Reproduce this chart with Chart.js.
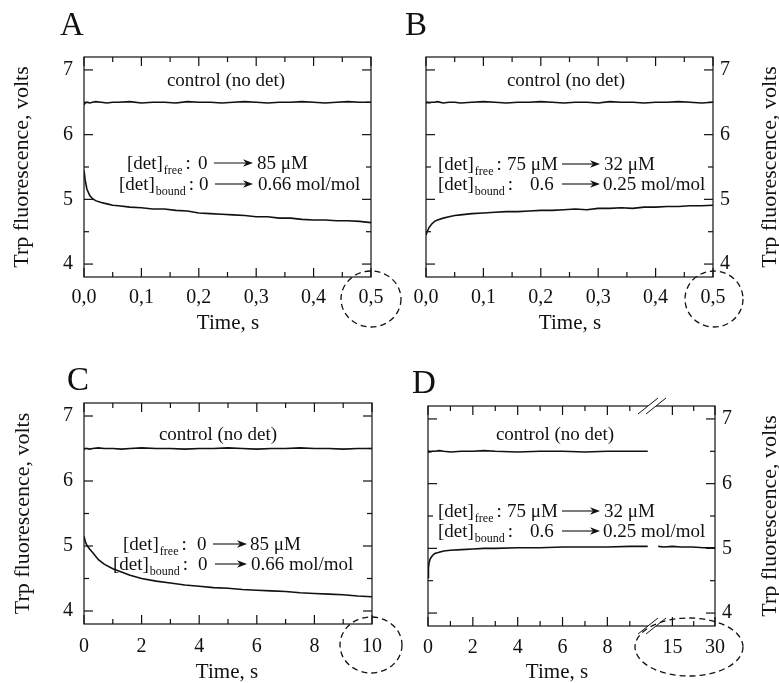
<!DOCTYPE html>
<html>
<head>
<meta charset="utf-8">
<script src="https://cdn.jsdelivr.net/npm/chart.js@4.4.1/dist/chart.umd.min.js"></script>
<style>
  html, body { margin: 0; padding: 0; background: #fff; }
  #wrap { position: relative; width: 779px; height: 683px; }
  #wrap canvas { position: absolute; left: 0; top: 0; }
</style>
</head>
<body>
<div id="wrap">
  <canvas id="panelA" width="779" height="683"></canvas>
  <canvas id="panelB" width="779" height="683"></canvas>
  <canvas id="panelC" width="779" height="683"></canvas>
  <canvas id="panelD" width="779" height="683"></canvas>
</div>
<script>
const FONT = '"Liberation Serif", "Times New Roman", Times, serif';
const INK = '#111';

// --- values ---
const yTicks = [4, 5, 6, 7];
const yMinorTicks = [4.5, 5.5, 6.5];

// A and B: 0 - 0.5 s
const timeFast = [0, 0.002, 0.005, 0.01, 0.015, 0.02, 0.03, 0.04, 0.05, 0.06, 0.08, 0.1, 0.12, 0.14, 0.16, 0.18,
  0.2, 0.22, 0.24, 0.26, 0.28, 0.3, 0.32, 0.34, 0.36, 0.38, 0.4, 0.42, 0.44, 0.46, 0.48, 0.5];
const controlA = [6.46, 6.49, 6.50, 6.49, 6.50, 6.51, 6.50, 6.49, 6.50, 6.50, 6.51, 6.49, 6.50, 6.50, 6.49, 6.51,
  6.50, 6.50, 6.49, 6.50, 6.51, 6.50, 6.49, 6.50, 6.50, 6.51, 6.50, 6.49, 6.50, 6.51, 6.50, 6.50];
const signalA = [5.45, 5.30, 5.16, 5.06, 5.01, 4.98, 4.95, 4.93, 4.91, 4.90, 4.88, 4.87, 4.85, 4.85, 4.83, 4.82,
  4.79, 4.78, 4.77, 4.76, 4.75, 4.73, 4.73, 4.71, 4.71, 4.69, 4.68, 4.68, 4.67, 4.67, 4.66, 4.64];
const controlB = [6.48, 6.50, 6.49, 6.50, 6.50, 6.51, 6.49, 6.50, 6.50, 6.49, 6.50, 6.51, 6.50, 6.49, 6.50, 6.50,
  6.51, 6.50, 6.49, 6.50, 6.50, 6.49, 6.51, 6.50, 6.50, 6.49, 6.50, 6.50, 6.51, 6.50, 6.49, 6.50];
const signalB = [4.45, 4.50, 4.56, 4.62, 4.66, 4.68, 4.71, 4.73, 4.75, 4.76, 4.78, 4.79, 4.80, 4.81, 4.81, 4.82,
  4.83, 4.83, 4.84, 4.85, 4.84, 4.86, 4.86, 4.87, 4.86, 4.88, 4.88, 4.89, 4.89, 4.90, 4.90, 4.91];
const xTicksFast = [0, 0.1, 0.2, 0.3, 0.4, 0.5];
const xMinorFast = [0.05, 0.15, 0.25, 0.35, 0.45];
const xLabelsFast = ['0,0', '0,1', '0,2', '0,3', '0,4', '0,5'];

// C: 0 - 10 s
const timeC = [0, 0.05, 0.1, 0.2, 0.3, 0.5, 0.7, 1, 1.3, 1.6, 2, 2.5, 3, 3.5, 4, 4.5, 5, 5.5, 6, 6.5, 7, 7.5, 8, 8.5, 9, 9.5, 10];
const controlC = [6.49, 6.50, 6.50, 6.49, 6.50, 6.51, 6.50, 6.50, 6.49, 6.50, 6.51, 6.50, 6.50, 6.49, 6.50, 6.50,
  6.51, 6.50, 6.49, 6.50, 6.50, 6.51, 6.50, 6.50, 6.49, 6.50, 6.50];
const signalC = [5.15, 5.06, 5.01, 4.95, 4.90, 4.79, 4.72, 4.65, 4.60, 4.55, 4.50, 4.46, 4.43, 4.40, 4.38, 4.36,
  4.35, 4.33, 4.32, 4.31, 4.30, 4.28, 4.27, 4.26, 4.25, 4.23, 4.22];
const xTicksSlow = [0, 2, 4, 6, 8, 10];
const xMinorSlow = [1, 3, 5, 7, 9];
const xLabelsSlow = ['0', '2', '4', '6', '8', '10'];

// D: 0 - 10 s, axis break, then out to 30 s
const timeD = [0, 0.02, 0.05, 0.1, 0.2, 0.3, 0.5, 0.7, 1, 1.5, 2, 2.5, 3, 4, 5, 6, 7, 8, 9, 9.8];
const controlD = [6.49, 6.50, 6.50, 6.49, 6.50, 6.50, 6.51, 6.50, 6.49, 6.50, 6.50, 6.51, 6.50, 6.49, 6.50, 6.50,
  6.49, 6.50, 6.50, 6.50];
const signalD = [4.55, 4.70, 4.78, 4.84, 4.89, 4.92, 4.94, 4.96, 4.97, 4.98, 4.99, 5.00, 5.00, 5.01, 5.01, 5.02,
  5.02, 5.02, 5.03, 5.03];
const timeDLate = [10, 12, 15, 18, 22, 26, 30];
const signalDLate = [5.03, 5.02, 5.03, 5.02, 5.02, 5.01, 5.01];
const xTicksD = [0, 2, 4, 6, 8, 15, 30];
const xMinorD = [1, 3, 5, 7, 9, 22.5];
const xLabelsD = ['0', '2', '4', '6', '8', '15', '30'];

// --- helpers ---
const same = t => t;
// after the break, 15 s and 30 s share the last part of the axis
const breakTime = t => (t < 10 ? t : 10.9 + (t - 15) * 1.9 / 15);

function pts(times, values, map) {
  return times.map((t, i) => ({ x: map(t), y: values[i] }));
}

function trace(data) {
  return { data, borderColor: INK, borderWidth: 1.6, pointRadius: 0, tension: 0, fill: false };
}

function arrow(ctx, x1, x2, y) {
  ctx.beginPath();
  ctx.moveTo(x1, y);
  ctx.lineTo(x2 - 6, y);
  ctx.stroke();
  ctx.beginPath();
  ctx.moveTo(x2, y);
  ctx.lineTo(x2 - 10, y - 3.8);
  ctx.lineTo(x2 - 7, y);
  ctx.lineTo(x2 - 10, y + 3.8);
  ctx.closePath();
  ctx.fill();
}

function drawNote(ctx, n) {
  ctx.textAlign = 'left';
  ctx.textBaseline = 'alphabetic';
  ctx.font = `19px ${FONT}`;
  let x = n.x;
  ctx.fillText('[det]', x, n.y);
  x += ctx.measureText('[det]').width + 1;
  ctx.font = `12px ${FONT}`;
  ctx.fillText(n.sub, x, n.y + 5);
  x += ctx.measureText(n.sub).width + 3;
  ctx.font = `19px ${FONT}`;
  ctx.fillText(':', x, n.y);
  ctx.fillText(n.from, n.fromX, n.y);
  ctx.lineWidth = 1.1;
  arrow(ctx, n.a1, n.a2, n.y - 6);
  ctx.fillText(n.to, n.toX, n.y);
}

function decor(p) {
  return {
    id: 'decor',
    afterDraw(chart) {
      const { ctx, chartArea: a } = chart;
      const xs = chart.scales.x, ys = chart.scales.y;
      ctx.save();
      ctx.strokeStyle = INK;
      ctx.fillStyle = INK;
      ctx.lineWidth = 1.2;
      ctx.strokeRect(a.left, a.top, a.right - a.left, a.bottom - a.top);

      const tick = (px, py, dx, dy) => {
        ctx.beginPath();
        ctx.moveTo(px, py);
        ctx.lineTo(px + dx, py + dy);
        ctx.stroke();
      };
      p.xMajor.forEach(v => {
        const px = xs.getPixelForValue(p.map(v));
        tick(px, a.bottom, 0, -9);
        tick(px, a.top, 0, 9);
      });
      p.xMinor.forEach(v => {
        const px = xs.getPixelForValue(p.map(v));
        tick(px, a.bottom, 0, -5);
        tick(px, a.top, 0, 5);
      });
      yTicks.forEach(v => {
        const py = ys.getPixelForValue(v);
        tick(a.left, py, 9, 0);
        tick(a.right, py, -9, 0);
      });
      yMinorTicks.forEach(v => {
        const py = ys.getPixelForValue(v);
        tick(a.left, py, 5, 0);
        tick(a.right, py, -5, 0);
      });

      // axis break marks (panel D)
      if (p.breakX) {
        [a.top, a.bottom].forEach(yy => {
          const c1 = p.breakX - 4, c2 = p.breakX + 4;
          ctx.fillStyle = '#fff';
          ctx.beginPath();
          ctx.moveTo(c1 - 10, yy + 8);
          ctx.lineTo(c1 + 10, yy - 8);
          ctx.lineTo(c2 + 10, yy - 8);
          ctx.lineTo(c2 - 10, yy + 8);
          ctx.closePath();
          ctx.fill();
          ctx.lineWidth = 1;
          [c1, c2].forEach(c => tick(c - 10, yy + 8, 20, -16));
        });
        ctx.fillStyle = INK;
      }

      // dashed ring round the last tick label
      ctx.save();
      ctx.setLineDash([6, 4]);
      ctx.lineWidth = 1.3;
      ctx.beginPath();
      ctx.ellipse(p.ring.cx, p.ring.cy, p.ring.rx, p.ring.ry, 0, 0, Math.PI * 2);
      ctx.stroke();
      ctx.restore();

      // panel letter
      ctx.font = `33px ${FONT}`;
      ctx.textAlign = 'left';
      ctx.textBaseline = 'alphabetic';
      ctx.fillText(p.letter, p.letterX, p.letterY);

      ctx.font = `19px ${FONT}`;
      ctx.textAlign = 'center';
      ctx.fillText('control (no det)', p.ctlX, p.ctlY);

      p.notes.forEach(n => drawNote(ctx, n));

      // axis titles
      ctx.font = `21px ${FONT}`;
      ctx.textAlign = 'center';
      ctx.textBaseline = 'middle';
      ctx.fillText('Time, s', p.timeX, p.timeY);
      ctx.font = `22px ${FONT}`;
      ctx.translate(p.yTitleX, (a.top + a.bottom) / 2);
      ctx.rotate(-Math.PI / 2);
      ctx.fillText('Trp fluorescence, volts', 0, 0);
      ctx.restore();
    }
  };
}

function makePanel(id, p, datasets) {
  new Chart(document.getElementById(id), {
    type: 'line',
    data: { datasets },
    options: {
      responsive: false,
      animation: false,
      events: [],
      layout: { padding: p.padding },
      plugins: { legend: { display: false }, tooltip: { enabled: false } },
      scales: {
        x: {
          type: 'linear',
          min: p.xMin,
          max: p.xMax,
          grid: { display: false, drawTicks: false },
          border: { display: false },
          afterBuildTicks: ax => { ax.ticks = p.xMajor.map(v => ({ value: p.map(v) })); },
          afterFit: ax => { ax.height = 40; },
          ticks: {
            padding: p.xPad,
            color: INK,
            autoSkip: false,
            maxRotation: 0,
            font: { family: FONT, size: 20 },
            callback: (v, i) => p.xLabels[i]
          }
        },
        y: {
          type: 'linear',
          position: p.ySide,
          min: 3.8,
          max: 7.2,
          grid: { display: false, drawTicks: false },
          border: { display: false },
          afterBuildTicks: ax => { ax.ticks = yTicks.map(v => ({ value: v })); },
          afterFit: ax => { ax.width = 40; },
          ticks: {
            padding: p.yPad,
            color: INK,
            font: { family: FONT, size: 20 },
            callback: v => String(v)
          }
        }
      }
    },
    plugins: [decor(p)]
  });
}

makePanel('panelA', {
  padding: { left: 44, top: 57, right: 408, bottom: 366 },
  xMin: 0, xMax: 0.5, map: same, xMajor: xTicksFast, xMinor: xMinorFast, xLabels: xLabelsFast,
  ySide: 'left', xPad: 9, yPad: 11,
  letter: 'A', letterX: 60, letterY: 35,
  ctlX: 226, ctlY: 86,
  notes: [
    { x: 127, y: 169, sub: 'free', from: '0', fromX: 198, a1: 214, a2: 253, to: '85 μM', toX: 257 },
    { x: 119, y: 190, sub: 'bound', from: '0', fromX: 199, a1: 215, a2: 253, to: '0.66 mol/mol', toX: 258 }
  ],
  ring: { cx: 371, cy: 299, rx: 30, ry: 28 },
  timeX: 228, timeY: 323, yTitleX: 22
}, [trace(pts(timeFast, controlA, same)), trace(pts(timeFast, signalA, same))]);

makePanel('panelB', {
  padding: { left: 426, top: 57, right: 26, bottom: 366 },
  xMin: 0, xMax: 0.5, map: same, xMajor: xTicksFast, xMinor: xMinorFast, xLabels: xLabelsFast,
  ySide: 'right', xPad: 9, yPad: 7,
  letter: 'B', letterX: 405, letterY: 35,
  ctlX: 566, ctlY: 86,
  notes: [
    { x: 438, y: 170, sub: 'free', from: '75 μM', fromX: 507, a1: 562, a2: 600, to: '32 μM', toX: 604 },
    { x: 438, y: 190, sub: 'bound', from: '0.6', fromX: 530, a1: 562, a2: 600, to: '0.25 mol/mol', toX: 603 }
  ],
  ring: { cx: 714, cy: 299, rx: 29, ry: 28 },
  timeX: 570, timeY: 323, yTitleX: 770
}, [trace(pts(timeFast, controlB, same)), trace(pts(timeFast, signalB, same))]);

makePanel('panelC', {
  padding: { left: 44, top: 403, right: 407, bottom: 19 },
  xMin: 0, xMax: 10, map: same, xMajor: xTicksSlow, xMinor: xMinorSlow, xLabels: xLabelsSlow,
  ySide: 'left', xPad: 11, yPad: 11,
  letter: 'C', letterX: 67, letterY: 390,
  ctlX: 218, ctlY: 440,
  notes: [
    { x: 123, y: 550, sub: 'free', from: '0', fromX: 197, a1: 213, a2: 247, to: '85 μM', toX: 250 },
    { x: 113, y: 570, sub: 'bound', from: '0', fromX: 198, a1: 215, a2: 247, to: '0.66 mol/mol', toX: 251 }
  ],
  ring: { cx: 371, cy: 645, rx: 31, ry: 28 },
  timeX: 227, timeY: 672, yTitleX: 23
}, [trace(pts(timeC, controlC, same)), trace(pts(timeC, signalC, same))]);

makePanel('panelD', {
  padding: { left: 428, top: 406, right: 24, bottom: 17 },
  xMin: 0, xMax: 12.8, map: breakTime, xMajor: xTicksD, xMinor: xMinorD, xLabels: xLabelsD,
  ySide: 'right', xPad: 10, yPad: 7,
  letter: 'D', letterX: 412, letterY: 393,
  ctlX: 555, ctlY: 440,
  breakX: 652,
  notes: [
    { x: 438, y: 517, sub: 'free', from: '75 μM', fromX: 507, a1: 562, a2: 600, to: '32 μM', toX: 604 },
    { x: 438, y: 537, sub: 'bound', from: '0.6', fromX: 530, a1: 562, a2: 600, to: '0.25 mol/mol', toX: 603 }
  ],
  ring: { cx: 689, cy: 647, rx: 54, ry: 29 },
  timeX: 557, timeY: 672, yTitleX: 770
}, [
  trace(pts(timeD, controlD, breakTime)),
  trace(pts(timeD, signalD, breakTime)),
  trace(pts(timeDLate, signalDLate, breakTime))
]);
</script>
</body>
</html>
